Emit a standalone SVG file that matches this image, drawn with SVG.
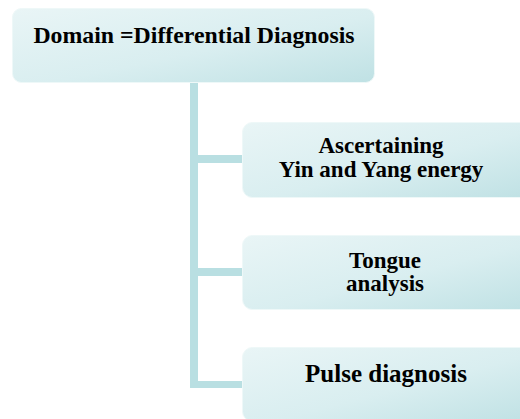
<svg xmlns="http://www.w3.org/2000/svg" width="520" height="419" viewBox="0 0 520 419">
  <defs>
    <linearGradient id="boxFill" x1="0" y1="0" x2="1" y2="1">
      <stop offset="0" stop-color="#e9f5f6"/>
      <stop offset="0.55" stop-color="#d9eef0"/>
      <stop offset="1" stop-color="#bfe1e4"/>
    </linearGradient>
    <style>
      .box { fill: url(#boxFill); stroke: #eef8f8; stroke-width: 1; }
      .conn { fill: #b9dfe2; }
      .lbl { font-family: 'Liberation Serif', 'Times New Roman', serif; font-weight: bold; fill: #000; text-anchor: middle; }
    </style>
  </defs>
  <rect width="520" height="419" fill="#ffffff"/>

  <!-- trunk and branches -->
  <g id="connectors">
    <rect class="conn" x="190" y="82" width="8" height="306"/>
    <rect class="conn" x="190" y="155" width="53" height="8"/>
    <rect class="conn" x="190" y="268" width="53" height="8"/>
    <rect class="conn" x="190" y="381" width="53" height="7"/>
  </g>

  <g id="domain">
    <rect class="box" x="12.5" y="8.5" width="362" height="74" rx="9"/>
    <text class="lbl" x="194" y="43" font-size="23.8">Domain =Differential Diagnosis</text>
  </g>

  <g id="yin-yang">
    <rect class="box" x="242.5" y="122.5" width="290" height="75" rx="10"/>
    <text class="lbl" x="381" y="153" font-size="23">Ascertaining</text>
    <text class="lbl" x="381" y="177" font-size="23">Yin and Yang energy</text>
  </g>

  <g id="tongue">
    <rect class="box" x="242.5" y="235.5" width="290" height="74" rx="10"/>
    <text class="lbl" x="385" y="268" font-size="23">Tongue</text>
    <text class="lbl" x="385" y="291" font-size="23">analysis</text>
  </g>

  <g id="pulse">
    <rect class="box" x="242.5" y="347.5" width="290" height="74" rx="10"/>
    <text class="lbl" x="386" y="382" font-size="25">Pulse diagnosis</text>
  </g>
</svg>
